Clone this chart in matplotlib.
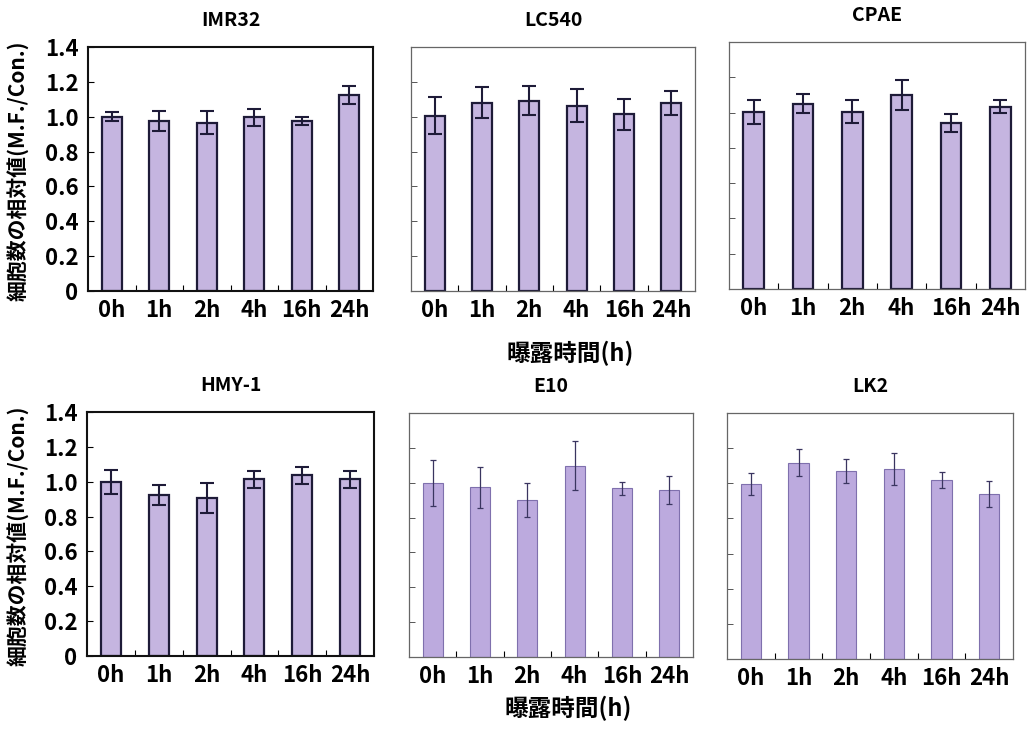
import matplotlib
matplotlib.use("Agg")
import matplotlib.pyplot as plt
import numpy as np

plt.rcParams['font.family'] = ['Noto Sans CJK JP', 'DejaVu Sans']
plt.rcParams['font.weight'] = 'bold'

times = ["0h", "1h", "2h", "4h", "16h", "24h"]
yticks = [0, 0.2, 0.4, 0.6, 0.8, 1.0, 1.2, 1.4]
yticklabels = ["0", "0.2", "0.4", "0.6", "0.8", "1.0", "1.2", "1.4"]

imr32 = [1.00, 0.976, 0.966, 0.997, 0.976, 1.127]
imr32_err = [0.027, 0.057, 0.064, 0.050, 0.025, 0.052]
lc540 = [1.005, 1.081, 1.092, 1.064, 1.014, 1.079]
lc540_err = [0.107, 0.087, 0.082, 0.093, 0.090, 0.068]
cpae = [1.004, 1.051, 1.006, 1.100, 0.941, 1.034]
cpae_err = [0.066, 0.053, 0.063, 0.085, 0.051, 0.038]
hmy1 = [0.998, 0.924, 0.905, 1.014, 1.038, 1.014]
hmy1_err = [0.069, 0.058, 0.087, 0.050, 0.049, 0.048]
e10 = [0.996, 0.973, 0.901, 1.098, 0.968, 0.958]
e10_err = [0.132, 0.117, 0.099, 0.139, 0.038, 0.080]
lk2 = [0.996, 1.116, 1.072, 1.083, 1.017, 0.939]
lk2_err = [0.064, 0.077, 0.069, 0.091, 0.046, 0.073]

W, H = 1028, 729
fig = plt.figure(figsize=(W / 100, H / 100), dpi=100)


def px_axes(x0, y0, x1, y1):
    return fig.add_axes([x0 / W, 1 - y1 / H, (x1 - x0) / W, (y1 - y0) / H])


# (name, values, errors, box in pixels, dark style?, show y labels?)
panels = [
    ("IMR32", imr32, imr32_err, (88, 47, 373, 291), True, True),
    ("LC540", lc540, lc540_err, (411, 47, 695, 291), True, False),
    ("CPAE", cpae, cpae_err, (729, 42, 1025, 289), True, False),
    ("HMY-1", hmy1, hmy1_err, (87, 412, 374, 656), True, True),
    ("E10", e10, e10_err, (409, 413, 693, 657), False, False),
    ("LK2", lk2, lk2_err, (727, 413, 1013, 659), False, False),
]

x = np.arange(len(times))
for name, vals, errs, box, dark, ylab in panels:
    ax = px_axes(*box)
    if dark:
        ax.bar(x, vals, width=0.42, color="#c5b5e0", edgecolor="#1e1b38", linewidth=1.6, zorder=2)
        ax.errorbar(x, vals, yerr=errs, fmt="none", ecolor="#1e1b38",
                    elinewidth=1.5, capsize=5, capthick=1.5, zorder=3)
    else:
        ax.bar(x, vals, width=0.42, color="#bcaade", edgecolor="#7f70ad", linewidth=0.8, zorder=2)
        ax.errorbar(x, vals, yerr=errs, fmt="none", ecolor="#3a3560",
                    elinewidth=0.9, capsize=2, capthick=0.9, zorder=3)
    ax.set_xlim(-0.5, len(times) - 0.5)
    ax.set_ylim(0, 1.4)
    ax.set_xticks(x)
    ax.set_xticklabels(times, fontsize=16, fontweight="bold")
    ax.set_xticks(x[:-1] + 0.5, minor=True)
    ax.tick_params(axis="x", which="major", length=0, pad=6)
    ax.tick_params(axis="x", which="minor", direction="in", length=4, width=0.8)
    ax.set_yticks(yticks)
    if ylab:
        ax.set_yticklabels(yticklabels, fontsize=16, fontweight="bold")
        ax.tick_params(axis="y", direction="in", length=4, width=0.8, pad=7)
        for s in ax.spines.values():
            s.set_linewidth(1.5)
            s.set_color("#111111")
    else:
        ax.set_yticklabels([])
        ax.tick_params(axis="y", direction="in", length=4, width=0.7, color="#555555")
        for s in ax.spines.values():
            s.set_linewidth(0.9)
            s.set_color("#666666")
    if name == "HMY-1":
        for s in ax.spines.values():
            s.set_linewidth(1.5)
    ax.set_title(name, fontsize=14, fontweight="bold", pad=15)

ylabel = "細胞数の相対値(M.F./Con.)"
fig.text(18 / W, 1 - 171 / H, ylabel, rotation=90, ha="center", va="center",
         fontsize=15, fontweight="bold")
fig.text(18 / W, 1 - 536 / H, ylabel, rotation=90, ha="center", va="center",
         fontsize=15, fontweight="bold")
fig.text(570 / W, 1 - 353 / H, "曝露時間(h)", ha="center", va="center",
         fontsize=17, fontweight="bold")
fig.text(568 / W, 1 - 708 / H, "曝露時間(h)", ha="center", va="center",
         fontsize=17, fontweight="bold")

fig.savefig("out.png", dpi=100)
